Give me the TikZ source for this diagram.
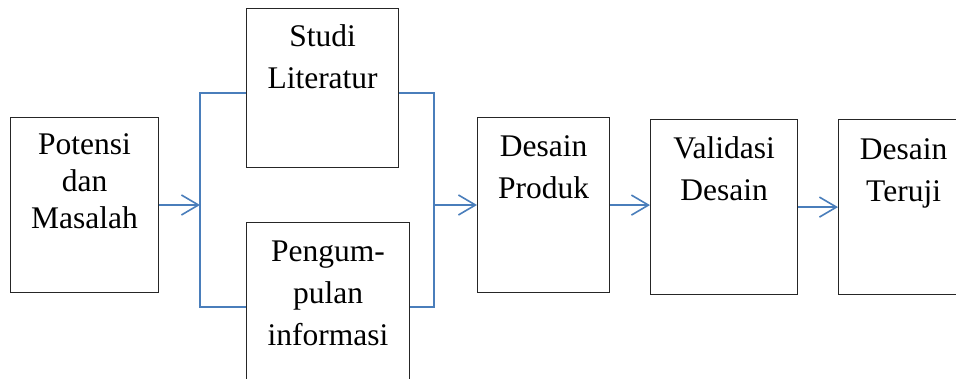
\documentclass[tikz,border=0pt]{standalone}
\usepackage{fontspec}
\setmainfont{Liberation Serif}
\usetikzlibrary{arrows.meta,calc}
\definecolor{linkblue}{HTML}{4A7EBB}
\tikzset{
  boxnode/.style={draw=black!85, line width=1.2pt, inner sep=0pt, anchor=north west},
  txtnode/.style={inner sep=0pt, anchor=north, align=center, font=\fontsize{31.5}{42}\selectfont},
  txttight/.style={txtnode, font=\fontsize{31.5}{37}\selectfont},
  link/.style={draw=linkblue, line width=1.6pt},
  arr/.style={link, -{Straight Barb[length=17pt,width=20pt,line width=1.6pt]}}
}
\begin{document}
\begin{tikzpicture}[x=1pt,y=-1pt]
\useasboundingbox (0,0) rectangle (956,379);
% boxes
\node[boxnode, minimum width=148pt, minimum height=175pt] (p) at (10,117) {};
\node[boxnode, minimum width=152pt, minimum height=159pt] (s) at (246,8) {};
\node[boxnode, minimum width=163pt, minimum height=180pt] (g) at (246,222) {};
\node[boxnode, minimum width=132pt, minimum height=175pt] (d) at (477,117) {};
\node[boxnode, minimum width=147pt, minimum height=175pt] (v) at (650,119) {};
\node[boxnode, minimum width=130pt, minimum height=175pt] (t) at (838,119) {};
% texts
\node[txttight] (pt) at ($(p.north)+(0,11.5)$) {\strut Potensi\\dan\\Masalah};
\node[txtnode] (st) at ($(s.north)+(0,9)$) {\strut Studi\\Literatur};
\node[txtnode] (gt) at ($(g.north)+(0,10)$) {\strut Pengum-\\pulan\\informasi};
\node[txtnode] (dt) at ($(d.north)+(0,10)$) {\strut Desain\\Produk};
\node[txtnode] (vt) at ($(v.north)+(0,10)$) {\strut Validasi\\Desain};
\node[txtnode] (tt) at ($(t.north)+(0,11)$) {\strut Desain\\Teruji};
% connectors
\coordinate (j) at (200,205);
\coordinate (ja) at (200,93);
\coordinate (jb) at (200,307);
\coordinate (k) at (434,205);
\coordinate (ka) at (434,93);
\coordinate (kb) at (434,307);
\draw[arr] (p.east |- j) -- (j);
\draw[link] (ja -| s.west) -- (ja) -- (jb) -- (jb -| g.west);
\draw[link] (s.east |- ka) -- (ka) -- (kb) -- (g.east |- kb);
\draw[arr] (k) -- (k -| d.west);
\draw[arr] (d.east) -- (d.east -| v.west);
\draw[arr] (v.east) -- (v.east -| t.west);
\end{tikzpicture}
\end{document}
